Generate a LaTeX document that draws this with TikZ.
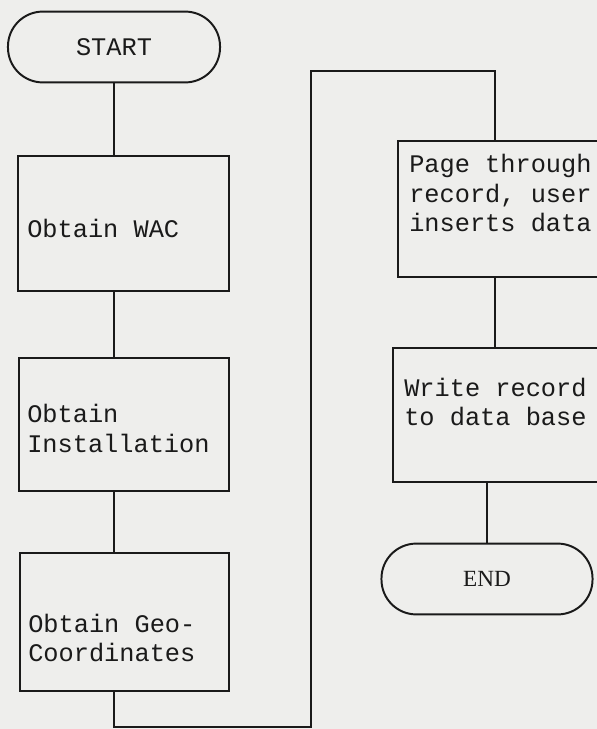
\documentclass[tikz,border=0pt]{standalone}
\usepackage{fontspec}
\setmainfont{Liberation Serif}
\setmonofont{Liberation Mono}
\usetikzlibrary{positioning}
\definecolor{ScanInk}{HTML}{1A1A1A}
\definecolor{ScanPaper}{HTML}{EEEEEC}
\tikzset{
  every node/.style={font=\ttfamily\fontsize{18}{21.3}\selectfont, text=ScanInk},
  terminal/.style={draw=ScanInk, line width=1.4pt, rounded corners=0.87cm, minimum height=1.77cm, inner sep=0pt},
  stepbox/.style={draw=ScanInk, line width=1.4pt, anchor=north west, inner sep=0pt},
  steptext/.style={anchor=west, align=left, inner sep=0pt},
  flow/.style={draw=ScanInk, line width=1.4pt},
}

\begin{document}
\begin{tikzpicture}[x=0.025cm,y=-0.025cm]
  % pixel grid of the scan: x to the right, y downwards
  \fill[ScanPaper] (0,0) rectangle (597,729);
  \useasboundingbox (0,0) rectangle (597,729);
  \clip (0,0) rectangle (597,729);
  % left column
  \node[terminal, minimum width=5.3cm] (start) at (114,47) {START};
  \node[stepbox, minimum width=5.275cm, minimum height=3.375cm] (wac) at (17,155) {};
  \node[steptext] (wac-t) at (27,228) {Obtain WAC};
  \node[stepbox, minimum width=5.25cm, minimum height=3.325cm] (inst) at (18,357) {};
  \node[steptext] (inst-t) at (27,428) {Obtain\\Installation};
  \node[stepbox, minimum width=5.225cm, minimum height=3.45cm] (geo) at (19,552) {};
  \node[steptext] (geo-t) at (28,638) {Obtain Geo-\\Coordinates};
  % right column
  \node[stepbox, minimum width=5.075cm, minimum height=3.4cm] (page) at (397,140) {};
  \node[steptext] (page-t) at (409,193) {Page through\\record, user\\inserts data};
  \node[stepbox, minimum width=5.2cm, minimum height=3.35cm] (write) at (392,347) {};
  \node[steptext] (write-t) at (404,402) {Write record\\to data base};
  \node[terminal, minimum width=5.275cm, font=\rmfamily\fontsize{16.5}{19}\selectfont] (end) at (487,579) {END};
  % connectors
  \coordinate (loop-a) at (311,727);
  \coordinate (loop-b) at (311,71);
  \draw[flow] (start.south) -- (start.south |- wac.north);
  \draw[flow] (wac.south -| start) -- (inst.north -| start);
  \draw[flow] (inst.south -| start) -- (geo.north -| start);
  \draw[flow] (geo.south -| start) |- (loop-a) -- (loop-b) -| ([xshift=-3pt]page.north);
  \draw[flow] ([xshift=-3pt]page.south) -- ([xshift=-3pt]page.south |- write.north);
  \draw[flow] (end.north |- write.south) -- (end.north);
\end{tikzpicture}
\end{document}
